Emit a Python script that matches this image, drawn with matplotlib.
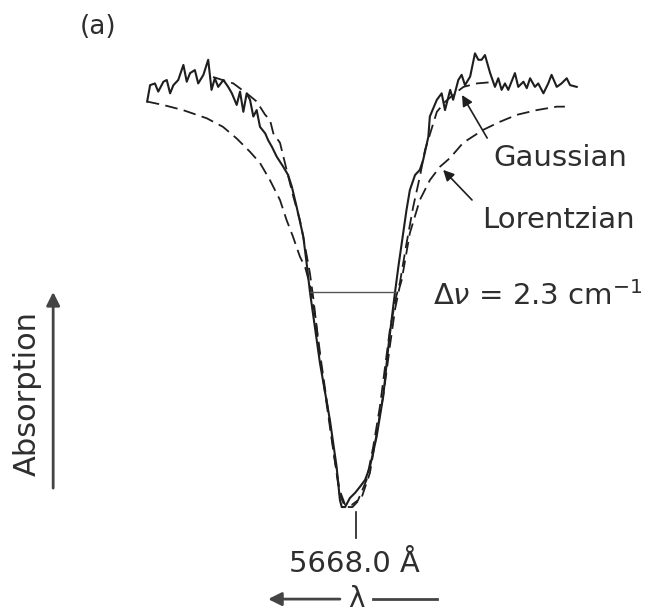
import matplotlib
matplotlib.use("Agg")
import matplotlib.pyplot as plt

# wavenumber offset from line centre (cm^-1) and relative signal (continuum = 1)
obs_x = [-5.55, -5.47, -5.34, -5.25, -5.11, -5.02, -4.93, -4.84, -4.71, -4.57,
         -4.48, -4.39, -4.26, -4.17, -4.03, -3.90, -3.81, -3.72, -3.63, -3.49,
         -3.36, -3.26, -3.13, -3.04, -2.95, -2.86, -2.77, -2.68, -2.59, -2.50,
         -2.36, -2.28, -2.18, -2.05, -1.87, -1.74, -1.64, -1.51, -1.33, -1.24,
         -1.15, -0.88, -0.61, -0.43, -0.34, -0.29, -0.20, -0.07, 0.07, 0.20,
         0.34, 0.47, 0.65, 0.83, 0.97, 1.10, 1.15, 1.24, 1.37, 1.46,
         1.55, 1.69, 1.82, 1.91, 2.05, 2.09, 2.28, 2.41, 2.50, 2.64,
         2.72, 2.86, 2.95, 3.04, 3.18, 3.31, 3.40, 3.49, 3.58, 3.72,
         3.85, 3.94, 4.03, 4.12, 4.21, 4.39, 4.48, 4.62, 4.71, 4.80,
         4.93, 5.02, 5.16, 5.29, 5.38, 5.52, 5.65, 5.79, 5.88, 6.06]
obs_y = [0.943, 0.981, 0.985, 0.966, 0.989, 0.993, 0.962, 0.981, 0.993, 1.028,
         0.989, 1.009, 1.016, 0.985, 1.005, 1.040, 0.970, 0.997, 0.977, 0.993,
         0.977, 0.962, 0.935, 0.966, 0.919, 0.962, 0.947, 0.908, 0.923, 0.884,
         0.869, 0.853, 0.838, 0.815, 0.791, 0.772, 0.745, 0.698, 0.629, 0.567,
         0.500, 0.335, 0.202, 0.094, 0.016, 0.000, 0.000, 0.021, 0.033, 0.047,
         0.063, 0.093, 0.163, 0.257, 0.373, 0.466, 0.500, 0.559, 0.637, 0.691,
         0.737, 0.772, 0.784, 0.807, 0.861, 0.908, 0.947, 0.962, 0.923, 0.970,
         0.947, 0.993, 1.005, 0.981, 1.001, 1.055, 1.040, 1.040, 1.051, 1.009,
         0.977, 0.997, 0.970, 0.985, 0.970, 1.009, 0.977, 0.989, 0.974, 0.997,
         0.977, 0.985, 0.962, 0.985, 1.005, 0.977, 0.985, 0.997, 0.981, 0.977]

gauss_x = [-3.77, -3.22, -2.86, -2.59, -2.36, -2.23, -2.14, -1.96, -1.78, -1.60,
           -1.42, -1.28, -1.15, -1.05, -0.90, -0.70, -0.50, -0.35, -0.20, -0.02,
           0.15, 0.38, 0.56, 0.74, 0.88, 1.01, 1.18, 1.28, 1.46, 1.64,
           1.82, 1.96, 2.28, 2.50, 2.77, 3.00, 3.36, 3.76]
gauss_y = [1.000, 0.985, 0.962, 0.943, 0.912, 0.900, 0.869, 0.847, 0.784, 0.722,
           0.667, 0.605, 0.543, 0.480, 0.360, 0.240, 0.120, 0.040, 0.005, 0.005,
           0.016, 0.063, 0.140, 0.233, 0.326, 0.412, 0.489, 0.521, 0.613, 0.698,
           0.768, 0.830, 0.919, 0.942, 0.962, 0.977, 0.985, 0.988]

lor_x = [-5.56, -5.12, -4.58, -3.94, -3.50, -3.13, -2.77, -2.50, -2.23, -1.96,
         -1.78, -1.61, -1.42, -1.28, -1.15, -1.00, -0.85, -0.65, -0.48, -0.35,
         -0.20, 0.00, 0.25, 0.47, 0.65, 0.85, 1.02, 1.15, 1.27, 1.33,
         1.55, 1.82, 2.09, 2.36, 2.64, 2.99, 3.53, 3.99, 4.44, 4.98,
         5.52, 5.74]
lor_y = [0.943, 0.935, 0.923, 0.904, 0.884, 0.857, 0.826, 0.800, 0.760, 0.714,
         0.667, 0.629, 0.582, 0.558, 0.516, 0.440, 0.340, 0.220, 0.110, 0.030,
         0.000, 0.000, 0.023, 0.079, 0.170, 0.270, 0.380, 0.460, 0.510, 0.528,
         0.637, 0.714, 0.760, 0.791, 0.812, 0.847, 0.877, 0.896, 0.912, 0.923,
         0.931, 0.931]

fwhm = 2.3          # cm^-1
half_level = 0.5
line_centre = 0.1
wavelength = "5668.0 Å"

ink = "#1e1e1e"
txt = "#2e2e2e"
plt.rcParams["font.family"] = ["DejaVu Sans"]

fig = plt.figure(figsize=(6.65, 6.15), dpi=100)
ax = fig.add_axes([0, 0, 1, 1])
ax.set_xlim(-9.527, 8.446)
ax.set_ylim(-0.251, 1.179)
ax.axis("off")

ax.plot(obs_x, obs_y, color=ink, lw=1.5, solid_joinstyle="round")
ax.plot(gauss_x, gauss_y, color=ink, lw=1.3, dashes=(7, 3.5))
ax.plot(lor_x, lor_y, color=ink, lw=1.3, dashes=(7, 3.5))

# full width at half depth
ax.plot([-fwhm / 2, fwhm / 2], [half_level, half_level], color="#555555", lw=1.0)

# centre marker and wavelength
ax.plot([line_centre, line_centre], [-0.012, -0.072], color=ink, lw=1.2)
ax.text(0.04, -0.151, wavelength, ha="center", va="baseline", fontsize=21, color=txt)

# lambda direction
ax.text(line_centre, -0.232, "λ", ha="center", va="baseline", fontsize=20, color=txt)
ax.annotate("", xy=(-2.28, -0.214), xytext=(-0.34, -0.214),
            arrowprops=dict(arrowstyle="-|>", color="#444444", lw=2.0,
                            mutation_scale=20, shrinkA=0, shrinkB=0))
ax.plot([0.55, 2.28], [-0.214, -0.214], color="#444444", lw=2.0)

# curve labels
ax.text(3.80, 0.812, "Gaussian", ha="left", va="center", fontsize=21, color=txt)
ax.text(3.49, 0.667, "Lorentzian", ha="left", va="center", fontsize=21, color=txt)
ax.annotate("", xy=(2.96, 0.958), xytext=(3.64, 0.858),
            arrowprops=dict(arrowstyle="-|>", color=ink, lw=1.2,
                            mutation_scale=16, shrinkA=0, shrinkB=0))
ax.annotate("", xy=(2.45, 0.784), xytext=(3.23, 0.714),
            arrowprops=dict(arrowstyle="-|>", color=ink, lw=1.2,
                            mutation_scale=16, shrinkA=0, shrinkB=0))
ax.text(2.18, 0.470, r"$\Delta\nu$ = %.1f cm$^{-1}$" % fwhm,
        ha="left", va="baseline", fontsize=21, color=txt)

# panel tag and axis arrow
ax.text(-6.88, 1.116, "(a)", ha="center", va="center", fontsize=19, color=txt)
ax.text(-8.80, 0.265, "Absorption", ha="center", va="center", rotation=90,
        fontsize=22, color=txt)
ax.annotate("", xy=(-8.09, 0.5), xytext=(-8.09, 0.044),
            arrowprops=dict(arrowstyle="-|>", color="#444444", lw=2.0,
                            mutation_scale=20, shrinkA=0, shrinkB=0))

fig.savefig("out.png", dpi=100)
